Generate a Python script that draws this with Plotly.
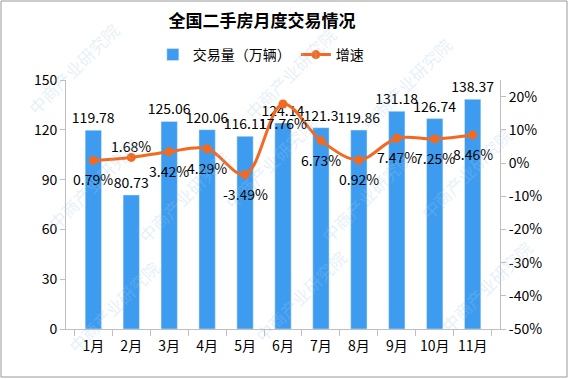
import plotly.graph_objects as go

months = ["1月", "2月", "3月", "4月", "5月", "6月", "7月", "8月", "9月", "10月", "11月"]
volume = [119.78, 80.73, 125.06, 120.06, 116.11, 124.14, 121.3, 119.86, 131.18, 126.74, 138.37]
growth = [0.79, 1.68, 3.42, 4.29, -3.49, 17.76, 6.73, 0.92, 7.47, 7.25, 8.46]
volume_labels = ["119.78", "80.73", "125.06", "120.06", "116.11", "124.14", "121.3", "119.86", "131.18", "126.74", "138.37"]
growth_labels = ["0.79%", "1.68%", "3.42%", "4.29%", "-3.49%", "17.76%", "6.73%", "0.92%", "7.47%", "7.25%", "8.46%"]
growth_label_above = [False, True, False, False, False, False, False, False, False, False, False]
left_ticks = [0, 30, 60, 90, 120, 150]
right_ticks = [-50, -40, -30, -20, -10, 0, 10, 20]
right_tick_text = ["-50%", "-40%", "-30%", "-20%", "-10%", "0%", "10%", "20%"]

FONT = "Noto Sans CJK SC"
BAR = "#3d9cf0"
LINE = "#f26a21"
AXIS = "#bfbfbf"

fig = go.Figure()
fig.add_trace(go.Bar(
    x=months, y=volume, name="交易量（万辆）", marker_color=BAR, width=0.43,
    text=volume_labels, textposition="outside", cliponaxis=False, constraintext="none",
    textangle=0, textfont=dict(family=FONT, size=14, color="#000"),
))
fig.add_trace(go.Scatter(
    x=months, y=growth, name="增速", yaxis="y2", mode="lines+markers",
    line=dict(color=LINE, width=3, shape="spline", smoothing=1.0),
    marker=dict(color=LINE, size=9), cliponaxis=False,
))

annotations = []
for m, g, lab, above in zip(months, growth, growth_labels, growth_label_above):
    annotations.append(dict(
        x=m, y=g, xref="x", yref="y2", text=lab, showarrow=False,
        yshift=11 if above else -19, font=dict(family=FONT, size=14, color="#000"),
    ))

# faint watermark text (pixel positions converted to paper coords of plot area)
L, R, T, B = 66, 500, 80, 329
pw, ph = R - L, B - T
wm_px = [(20, 15), (290, 20), (460, 30), (40, 130), (270, 110), (520, 120),
         (130, 250), (420, 250), (60, 360), (300, 350), (540, 340)]
for (px, py) in wm_px:
    annotations.append(dict(
        x=(px - L) / pw, y=(B - py) / ph, xref="paper", yref="paper", text="中商产业研究院",
        showarrow=False, textangle=-45,
        font=dict(family=FONT, size=17, color="rgba(160,200,232,0.28)"),
    ))

fig.update_layout(
    width=568, height=379,
    margin=dict(l=L, r=568 - R, t=T, b=379 - B, autoexpand=False),
    paper_bgcolor="white", plot_bgcolor="white",
    title=dict(text="<b>全国二手房月度交易情况</b>", x=262 / 568, xanchor="center",
               y=1 - 21 / 379, yanchor="middle",
               font=dict(family=FONT, size=17, color="#000")),
    legend=dict(orientation="h", x=255 / 568, xanchor="center", y=1 - 55 / 379, yanchor="middle",
                yref="container", font=dict(family=FONT, size=14, color="#000"),
                bgcolor="rgba(0,0,0,0)"),
    showlegend=True,
    xaxis=dict(type="category", showgrid=False, showline=True, linecolor=AXIS, linewidth=1,
               ticks="outside", tickson="boundaries", ticklen=6, tickcolor=AXIS, tickangle=0,
               ticklabelstandoff=4,
               automargin=False, tickfont=dict(family=FONT, size=14, color="#000")),
    yaxis=dict(range=[0, 150], tickvals=left_ticks, showgrid=False, automargin=False,
               showline=True, linecolor=AXIS, ticks="outside", ticklen=5, tickcolor=AXIS,
               zeroline=False, tickfont=dict(family=FONT, size=14, color="#000")),
    yaxis2=dict(range=[-50, 25], overlaying="y", side="right", automargin=False,
                tickvals=right_ticks, ticktext=right_tick_text,
                showgrid=False, showline=True, linecolor=AXIS, ticks="outside", ticklen=5,
                tickcolor=AXIS, zeroline=False, tickfont=dict(family=FONT, size=14, color="#000")),
    annotations=annotations,
    shapes=[dict(type="rect", xref="paper", yref="paper",
                 x0=(1 - L) / pw, x1=(567 - L) / pw, y0=(B - 377) / ph, y1=(B - 1) / ph,
                 line=dict(color="#999", width=1), layer="below")],
)

fig.write_html("out.html", config={"displayModeBar": False},
               post_script="document.body.style.margin='0';document.body.style.overflow='hidden';")
